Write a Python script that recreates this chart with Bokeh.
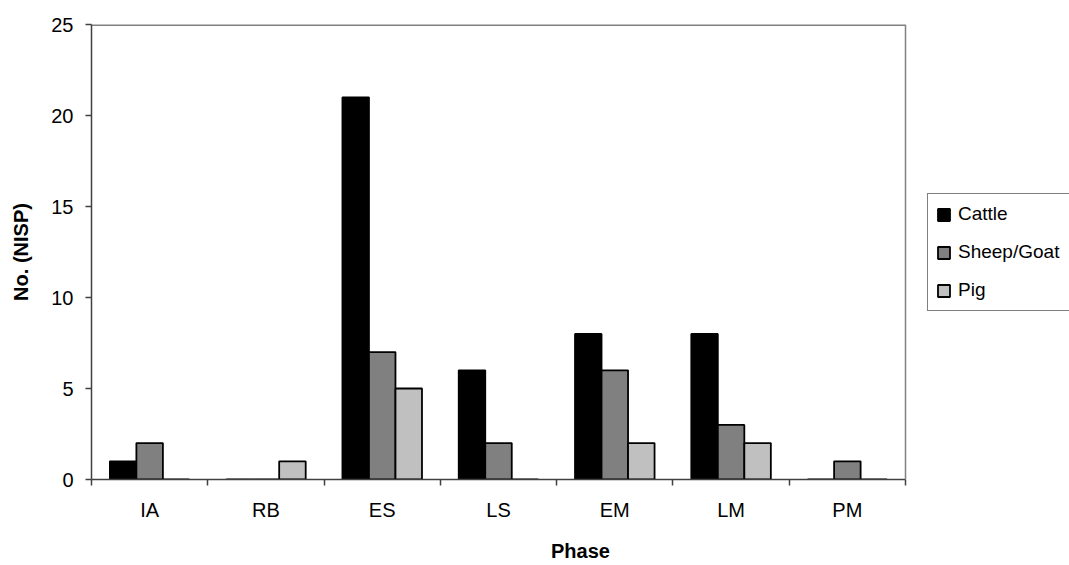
from bokeh.plotting import figure
from bokeh.models import Range1d, FixedTicker, Legend, LegendItem, ColumnDataSource, Span
from bokeh.embed import file_html
from bokeh.resources import INLINE
import numpy as np

phases = ["IA", "RB", "ES", "LS", "EM", "LM", "PM"]
cattle = [1, 0, 21, 6, 8, 8, 0]
sheep_goat = [2, 0, 7, 2, 6, 3, 1]
pig = [0, 1, 5, 0, 2, 2, 0]
series_names = ["Cattle", "Sheep/Goat", "Pig"]
series_colors = ["#000000", "#808080", "#c0c0c0"]
y_ticks = [0, 5, 10, 15, 20, 25]
y_max = 25

FONT = "Liberation Sans"
BAR_W = 0.228

W, H = 1069, 565
LEFT, TOP, BOTTOM = 91, 24, 86
PLOT_W = 814  # visible chart area width in px
frame_w = W - LEFT
n = len(phases)
x_end = n * frame_w / PLOT_W

p = figure(width=W, height=H, output_backend="svg", toolbar_location=None,
           x_range=Range1d(0, x_end), y_range=Range1d(0, y_max),
           min_border_left=LEFT, min_border_right=0, min_border_top=TOP, min_border_bottom=BOTTOM)
p.background_fill_color = "white"
p.border_fill_color = "white"
p.xgrid.visible = False
p.ygrid.visible = False
p.outline_line_color = None

# chart area border (top and right), grey
p.segment(x0=[0], x1=[n], y0=[y_max], y1=[y_max], line_color="#808080", line_width=3)
p.add_layout(Span(location=n, dimension="height", line_color="#808080", line_width=1.5))

centers = np.arange(n) + 0.5
items = []
for k, (name, vals, col) in enumerate(zip(series_names, [cattle, sheep_goat, pig], series_colors)):
    src = ColumnDataSource(dict(x=centers + (k - 1) * BAR_W, top=vals))
    r = p.vbar(x="x", top="top", width=BAR_W, source=src, fill_color=col,
               line_color="#000000", line_width=1.8)
    items.append(LegendItem(label=name, renderers=[r]))

legend = Legend(items=items, location=(836, 168), orientation="vertical",
                label_text_font=FONT, label_text_font_size="19px", label_text_color="#000000",
                glyph_width=15, glyph_height=15, label_height=24, label_width=115, label_standoff=7,
                spacing=14, padding=8, margin=0,
                border_line_color="#000000", border_line_width=1,
                background_fill_color="white", background_fill_alpha=1.0)
p.add_layout(legend, "center")

xa = p.xaxis[0]
xa.bounds = (0, n)
xa.ticker = FixedTicker(ticks=list(centers), minor_ticks=list(range(n + 1)))
xa.major_label_overrides = {float(c): ph for c, ph in zip(centers, phases)}
xa.major_tick_line_color = None
xa.minor_tick_out = 6
xa.minor_tick_in = 0
xa.minor_tick_line_color = "#404040"
xa.minor_tick_line_width = 1.5
xa.axis_line_color = "#404040"
xa.axis_line_width = 1.5
xa.major_label_standoff = 13
xa.major_label_text_font = FONT
xa.major_label_text_font_size = "20px"
xa.major_label_text_color = "#000000"
xa.axis_label = "Phase"
xa.axis_label_text_font = FONT
xa.axis_label_text_font_size = "20px"
xa.axis_label_text_font_style = "bold"
xa.axis_label_text_color = "#000000"
xa.axis_label_standoff = 16

ya = p.yaxis[0]
ya.ticker = FixedTicker(ticks=y_ticks)
ya.minor_tick_line_color = None
ya.major_tick_out = 6
ya.major_tick_in = 0
ya.major_tick_line_color = "#404040"
ya.major_tick_line_width = 1.5
ya.axis_line_color = "#404040"
ya.axis_line_width = 1.5
ya.major_label_standoff = 12
ya.major_label_text_font = FONT
ya.major_label_text_font_size = "20px"
ya.major_label_text_color = "#000000"
ya.axis_label = "No. (NISP)"
ya.axis_label_text_font = FONT
ya.axis_label_text_font_size = "20px"
ya.axis_label_text_font_style = "bold"
ya.axis_label_text_color = "#000000"
ya.axis_label_standoff = 16

open("out.html", "w").write(file_html(p, INLINE))
